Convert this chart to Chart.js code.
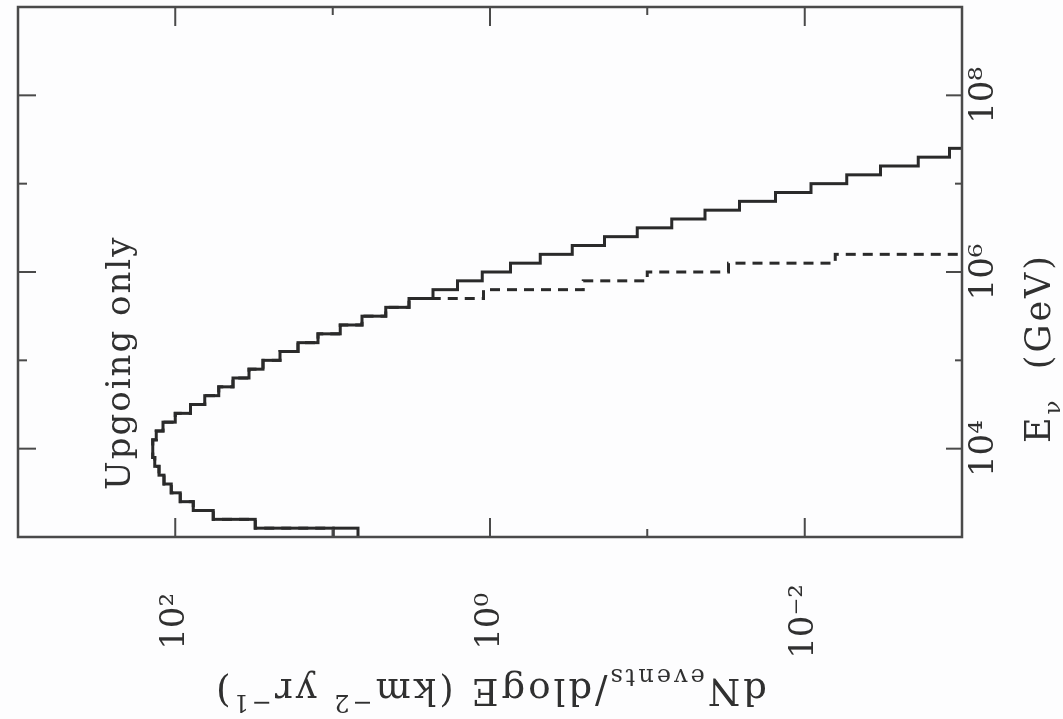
<!DOCTYPE html>
<html>
<head>
<meta charset="utf-8">
<title>Upgoing only - event rate per log energy bin</title>
<script src="https://cdn.jsdelivr.net/npm/chart.js@4.4.1/dist/chart.umd.min.js"></script>
<style>
  html, body { margin: 0; padding: 0; overflow: hidden; background: #fdfdfe; }
  /* the plot is drawn upright, then turned a quarter turn like the scanned page */
  #turn {
    position: absolute; left: 0; top: 719px;
    width: 719px; height: 1063px;
    transform-origin: 0 0; transform: rotate(-90deg);
  }
</style>
</head>
<body>
<div id="turn"><canvas id="rateChart" width="719" height="1063"></canvas></div>
<script>
// histogram bin edges, log10(E / GeV), 0.1 decade per bin
const binEdgesLog = [3.0, 3.1, 3.2, 3.3, 3.4, 3.5, 3.6, 3.7, 3.8, 3.9,
                     4.0, 4.1, 4.2, 4.3, 4.4, 4.5, 4.6, 4.7, 4.8, 4.9,
                     5.0, 5.1, 5.2, 5.3, 5.4, 5.5, 5.6, 5.7, 5.8, 5.9,
                     6.0, 6.1, 6.2, 6.3, 6.4, 6.5, 6.6, 6.7, 6.8, 6.9,
                     7.0, 7.1, 7.2, 7.3, 7.4, 7.5];

// dN/dlogE (km^-2 yr^-1), solid histogram
const solidCounts = [6.9, 31, 57.5, 77, 93, 106, 118, 127, 135, 139,
                     139, 132, 120, 100, 80, 65, 53, 43, 34, 27.7,
                     21.6, 16.6, 12.4, 8.95, 6.5, 4.6, 3.27, 2.3, 1.61, 1.12,
                     0.74, 0.48, 0.30, 0.187, 0.116, 0.070, 0.043, 0.026, 0.0153, 0.0091,
                     0.0054, 0.0033, 0.0019, 0.0012, 0.0007];

// dashed histogram (follows the solid one up to ~5e5 GeV)
const dashedCounts = [9.9, 31, 57.5, 77, 93, 106, 118, 127, 135, 139,
                      139, 132, 120, 100, 80, 65, 53, 43, 34, 27.7,
                      21.6, 16.6, 12.4, 8.95, 6.5, 4.6, 3.27, 1.10, 0.255, 0.100,
                      0.0305, 0.0064, 0.0005];

const energyTicks = [1e4, 1e5, 1e6, 1e7, 1e8];
const energyTickLabels = ['10⁴', '', '10⁶', '', '10⁸'];
const rateTicks = [1e-2, 1e-1, 1e0, 1e1, 1e2];
const rateTickLabels = ['10⁻²', '', '10⁰', '', '10²'];

const ink = '#303030';
const serif = '"DejaVu Serif", "Liberation Serif", serif';

function stepPoints(counts) {
  const pts = counts.map((c, i) => ({ x: Math.pow(10, binEdgesLog[i]), y: c }));
  pts.push({ x: Math.pow(10, binEdgesLog[counts.length]), y: counts[counts.length - 1] });
  return pts;
}

// text with sub/superscripts; parts = [[text, 0 normal | 1 sub | 2 sup], ...]
function richText(ctx, parts, x, y, size, align) {
  const small = Math.round(size * 0.66);
  const widths = parts.map(p => {
    ctx.font = (p[1] ? small : size) + 'px ' + serif;
    return ctx.measureText(p[0]).width;
  });
  const total = widths.reduce((a, b) => a + b, 0);
  let cx = align === 'center' ? x - total / 2 : x;
  parts.forEach((p, i) => {
    ctx.font = (p[1] ? small : size) + 'px ' + serif;
    const dy = p[1] === 1 ? size * 0.28 : p[1] === 2 ? -size * 0.42 : 0;
    ctx.fillText(p[0], cx, y + dy);
    cx += widths[i];
  });
}

const frameAndText = {
  id: 'frameAndText',
  afterDatasetsDraw(chart) {
    const { ctx, chartArea: a, scales: { x, y } } = chart;
    ctx.save();
    ctx.strokeStyle = '#4a4a4a';
    ctx.lineWidth = 2.5;
    ctx.strokeRect(a.left, a.top, a.right - a.left, a.bottom - a.top);

    // inward ticks on all four sides, long ones on the even decades
    ctx.lineWidth = 2;
    ctx.beginPath();
    energyTicks.forEach((v, i) => {
      const px = x.getPixelForValue(v);
      const len = energyTickLabels[i] ? 16 : 7;
      ctx.moveTo(px, a.bottom); ctx.lineTo(px, a.bottom - len);
      ctx.moveTo(px, a.top); ctx.lineTo(px, a.top + len + 2);
    });
    rateTicks.forEach((v, i) => {
      const py = y.getPixelForValue(v);
      const len = rateTickLabels[i] ? 19 : 8;
      ctx.moveTo(a.left, py); ctx.lineTo(a.left + len, py);
      ctx.moveTo(a.right, py); ctx.lineTo(a.right - len, py);
    });
    ctx.stroke();

    ctx.fillStyle = ink;
    ctx.textBaseline = 'alphabetic';
    ctx.textAlign = 'left';
    ctx.letterSpacing = '2px';

    // label inside the plot
    ctx.font = '34px ' + serif;
    ctx.fillText('Upgoing only', a.left + 47, a.top + 112);

    // x axis title
    ctx.letterSpacing = '3px';
    richText(ctx, [['E', 0], ['ν', 1], ['  (GeV)', 0]], a.left + 189, a.bottom + 88, 35, 'center');

    // y axis title, turned to read upwards
    ctx.save();
    ctx.translate(a.left - 142, (a.top + a.bottom) / 2);
    ctx.rotate(-Math.PI / 2);
    richText(ctx, [['dN', 0], ['events', 1], ['/dlogE (km', 0], ['−2', 2],
                   [' yr', 0], ['−1', 2], [')', 0]], 0, 0, 37, 'center');
    ctx.restore();
    ctx.restore();
  }
};

new Chart(document.getElementById('rateChart'), {
  type: 'line',
  data: {
    datasets: [{
      label: 'solid',
      data: stepPoints(solidCounts),
      borderColor: '#2a2a2a',
      borderWidth: 3,
      stepped: true,
      pointRadius: 0,
      fill: false
    }, {
      label: 'dashed',
      data: stepPoints(dashedCounts),
      borderColor: '#2a2a2a',
      borderWidth: 3,
      borderDash: [10, 7],
      stepped: true,
      pointRadius: 0,
      fill: false
    }]
  },
  options: {
    responsive: false,
    animation: false,
    devicePixelRatio: 1,
    layout: { padding: { left: 0, right: 7, top: 18, bottom: 0 } },
    plugins: { legend: { display: false }, tooltip: { enabled: false } },
    scales: {
      x: {
        type: 'logarithmic',
        position: 'bottom',
        min: 1e3,
        max: 1e9,
        grid: { display: false, drawTicks: false },
        border: { display: false },
        afterBuildTicks: s => { s.ticks = energyTicks.map(v => ({ value: v })); },
        afterFit: s => { s.height = 101; s.paddingLeft = 0; s.paddingRight = 0; },
        ticks: {
          autoSkip: false, maxRotation: 0, minRotation: 0, padding: 2,
          color: ink, font: { family: serif, size: 34 },
          callback: (v, i) => energyTickLabels[i]
        }
      },
      y: {
        type: 'logarithmic',
        position: 'left',
        min: 1e-3,
        max: 1e3,
        grid: { display: false, drawTicks: false },
        border: { display: false },
        afterBuildTicks: s => { s.ticks = rateTicks.map(v => ({ value: v })); },
        afterFit: s => { s.width = 182; s.paddingTop = 0; s.paddingBottom = 0; },
        ticks: {
          autoSkip: false, padding: 47, crossAlign: 'center',
          color: ink, font: { family: serif, size: 34 },
          callback: (v, i) => rateTickLabels[i]
        }
      }
    }
  },
  plugins: [frameAndText]
});
</script>
</body>
</html>
